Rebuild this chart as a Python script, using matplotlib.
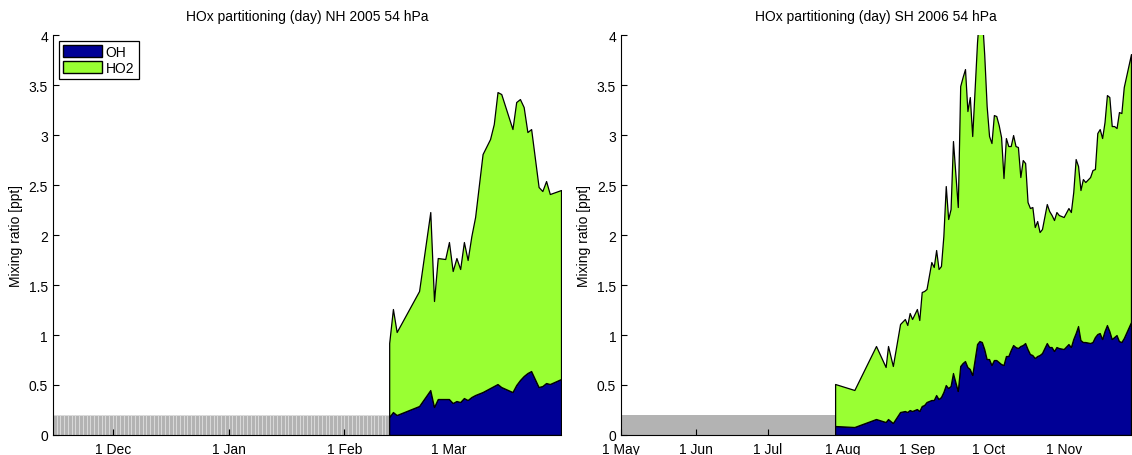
import numpy as np
import pandas as pd
import matplotlib
matplotlib.use('Agg')
import matplotlib.pyplot as plt
import matplotlib.dates as mdates
from matplotlib.patches import Patch

plt.rcParams['font.family'] = ['Liberation Sans', 'DejaVu Sans']
plt.rcParams['font.size'] = 10

# NH 2005 (left panel)
nh_dates = pd.to_datetime([
    '2005-02-13', '2005-02-14', '2005-02-15', '2005-02-21', '2005-02-24', '2005-02-25',
    '2005-02-26', '2005-02-28', '2005-03-01', '2005-03-02', '2005-03-03', '2005-03-04',
    '2005-03-05', '2005-03-06', '2005-03-07', '2005-03-08', '2005-03-10', '2005-03-12',
    '2005-03-13', '2005-03-14', '2005-03-15', '2005-03-18', '2005-03-19', '2005-03-20',
    '2005-03-21', '2005-03-22', '2005-03-23', '2005-03-25', '2005-03-26', '2005-03-27',
    '2005-03-28', '2005-03-31'])
nh_oh = [0.18, 0.23, 0.20, 0.29, 0.45, 0.28, 0.36, 0.36, 0.36, 0.32, 0.34, 0.33,
         0.37, 0.35, 0.38, 0.40, 0.43, 0.47, 0.49, 0.51, 0.48, 0.43, 0.50, 0.55,
         0.59, 0.62, 0.64, 0.48, 0.49, 0.52, 0.51, 0.56]
nh_ho2 = [0.74, 1.03, 0.83, 1.15, 1.78, 1.06, 1.41, 1.40, 1.57, 1.32, 1.43, 1.33,
          1.56, 1.40, 1.61, 1.78, 2.38, 2.49, 2.62, 2.92, 2.93, 2.63, 2.83, 2.81,
          2.69, 2.41, 2.42, 2.00, 1.95, 2.02, 1.90, 1.89]
nh_nodata = pd.date_range('2004-11-15', '2005-02-12', freq='D')

# SH 2006 (right panel)
sh_dates = pd.to_datetime([
    '2006-07-29', '2006-08-06', '2006-08-15', '2006-08-19', '2006-08-20', '2006-08-22',
    '2006-08-25', '2006-08-27', '2006-08-28', '2006-08-29', '2006-08-30', '2006-09-01',
    '2006-09-02', '2006-09-03', '2006-09-04', '2006-09-05', '2006-09-07', '2006-09-08',
    '2006-09-09', '2006-09-10', '2006-09-11', '2006-09-12', '2006-09-13', '2006-09-14',
    '2006-09-15', '2006-09-16', '2006-09-18', '2006-09-19', '2006-09-20', '2006-09-21',
    '2006-09-22', '2006-09-23', '2006-09-24', '2006-09-26', '2006-09-27', '2006-09-28',
    '2006-09-29', '2006-09-30', '2006-10-01', '2006-10-02', '2006-10-03', '2006-10-04',
    '2006-10-05', '2006-10-06', '2006-10-07', '2006-10-08', '2006-10-09', '2006-10-10',
    '2006-10-11', '2006-10-12', '2006-10-13', '2006-10-14', '2006-10-15', '2006-10-16',
    '2006-10-17', '2006-10-18', '2006-10-19', '2006-10-20', '2006-10-21', '2006-10-22',
    '2006-10-23', '2006-10-25', '2006-10-26', '2006-10-27', '2006-10-28', '2006-10-29',
    '2006-10-30', '2006-11-01', '2006-11-03', '2006-11-04', '2006-11-05', '2006-11-06',
    '2006-11-07', '2006-11-08', '2006-11-09', '2006-11-10', '2006-11-12', '2006-11-13',
    '2006-11-14', '2006-11-15', '2006-11-16', '2006-11-17', '2006-11-18', '2006-11-19',
    '2006-11-20', '2006-11-21', '2006-11-22', '2006-11-23', '2006-11-24', '2006-11-25',
    '2006-11-26', '2006-11-29'])
sh_total = [0.51, 0.45, 0.89, 0.68, 0.89, 0.69,
            1.11, 1.16, 1.10, 1.22, 1.16, 1.26,
            1.15, 1.43, 1.44, 1.46, 1.73, 1.68,
            1.85, 1.66, 1.69, 1.99, 2.49, 2.16,
            2.26, 2.94, 2.28, 3.49, 3.58, 3.66,
            3.24, 3.38, 2.99, 3.93, 4.25, 4.20,
            3.80, 3.29, 2.99, 2.92, 3.20, 3.19,
            3.10, 2.98, 2.57, 2.97, 2.89, 2.89,
            3.00, 2.89, 2.88, 2.58, 2.75, 2.72,
            2.33, 2.27, 2.28, 2.08, 2.14, 2.03,
            2.06, 2.31, 2.24, 2.20, 2.15, 2.23,
            2.20, 2.18, 2.27, 2.23, 2.43, 2.76,
            2.69, 2.45, 2.56, 2.53, 2.58, 2.65,
            2.66, 3.02, 3.06, 2.97, 3.13, 3.40,
            3.38, 3.09, 3.09, 3.07, 3.23, 3.22,
            3.48, 3.81]
sh_oh = [0.09, 0.08, 0.16, 0.13, 0.16, 0.12,
         0.23, 0.24, 0.23, 0.25, 0.24, 0.26,
         0.24, 0.29, 0.30, 0.33, 0.35, 0.35,
         0.40, 0.36, 0.38, 0.43, 0.50, 0.47,
         0.49, 0.62, 0.44, 0.69, 0.72, 0.74,
         0.68, 0.66, 0.60, 0.91, 0.94, 0.93,
         0.86, 0.76, 0.76, 0.70, 0.75, 0.75,
         0.73, 0.71, 0.70, 0.79, 0.79, 0.85,
         0.90, 0.88, 0.87, 0.89, 0.90, 0.92,
         0.86, 0.81, 0.80, 0.77, 0.79, 0.80,
         0.82, 0.92, 0.88, 0.88, 0.84, 0.88,
         0.87, 0.86, 0.91, 0.88, 0.96, 1.02,
         1.09, 0.95, 0.93, 0.93, 0.92, 0.93,
         0.98, 1.01, 1.02, 0.96, 1.04, 1.10,
         1.04, 0.96, 0.98, 1.00, 0.94, 0.93,
         0.97, 1.13]
sh_ho2 = [t - o for t, o in zip(sh_total, sh_oh)]
sh_nodata_start = pd.Timestamp('2006-05-01')
sh_nodata_end = pd.Timestamp('2006-07-29')

nodata_level = 0.2
oh_color = '#000096'
ho2_color = '#99ff33'
gray = '#b3b3b3'


def style_axes(ax, title, xlim):
    ax.set_title(title, fontsize=10, pad=11)
    ax.set_ylabel('Mixing ratio [ppt]')
    ax.set_ylim(0, 4)
    ax.set_yticks(np.arange(0, 4.01, 0.5))
    ax.set_yticklabels(['0', '0.5', '1', '1.5', '2', '2.5', '3', '3.5', '4'])
    ax.set_xlim(*xlim)
    ax.xaxis.set_major_locator(mdates.MonthLocator())
    ax.xaxis.set_major_formatter(mdates.DateFormatter('1 %b'))
    ax.spines['top'].set_visible(False)
    ax.spines['right'].set_visible(False)
    ax.tick_params(direction='in', length=4, width=0.8, labelsize=10)
    ax.tick_params(axis='x', pad=5)


fig = plt.figure(figsize=(11.32, 4.56), dpi=100)
ax1 = fig.add_axes([0.0468, 0.0439, 0.4488, 0.877])
ax2 = fig.add_axes([0.5486, 0.0439, 0.4505, 0.877])

# left panel
ax1.bar(nh_nodata, nodata_level, width=1.0, align='edge', color=gray,
        edgecolor='#dcdcdc', linewidth=0.6, zorder=1)
ax1.stackplot(nh_dates, nh_oh, nh_ho2, colors=[oh_color, ho2_color],
              edgecolor='black', linewidth=0.9, zorder=2)
style_axes(ax1, 'HOx partitioning (day) NH 2005 54 hPa',
           (pd.Timestamp('2004-11-15'), pd.Timestamp('2005-03-31')))

handles = [Patch(facecolor=oh_color, edgecolor='black', label='OH'),
           Patch(facecolor=ho2_color, edgecolor='black', label='HO2')]
leg = ax1.legend(handles=handles, loc='upper left', fancybox=False, framealpha=1,
                 edgecolor='black', handlelength=2.8, handleheight=1.0,
                 handletextpad=0.3, borderpad=0.3, labelspacing=0.15,
                 borderaxespad=0.4, fontsize=10)
leg.get_frame().set_linewidth(0.9)

# right panel
ax2.fill_between([sh_nodata_start, sh_nodata_end], 0, nodata_level,
                 color=gray, linewidth=0, zorder=1)
ax2.stackplot(sh_dates, sh_oh, sh_ho2, colors=[oh_color, ho2_color],
              edgecolor='black', linewidth=0.9, zorder=2)
style_axes(ax2, 'HOx partitioning (day) SH 2006 54 hPa',
           (pd.Timestamp('2006-05-01'), pd.Timestamp('2006-11-29')))

fig.savefig('out.png', dpi=100)
